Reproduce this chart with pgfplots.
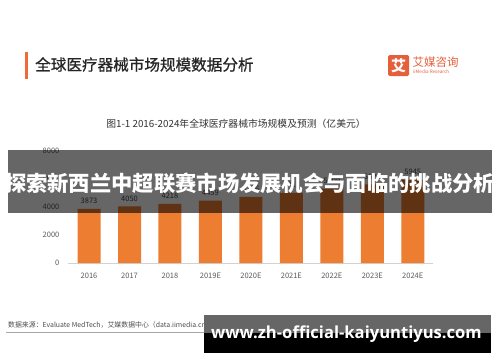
\documentclass[border=0pt]{standalone}
\usepackage{pgfplots}
\pgfplotsset{compat=1.18}
\usepackage{fontspec}
\setmainfont{Noto Sans CJK SC}
\newfontfamily\cjkm[BoldFont={Noto Sans CJK SC},BoldFeatures={FakeBold=0.8}]{Noto Sans CJK SC}
\newfontfamily\osb{Open Sans}
\definecolor{barc}{HTML}{ED7D31}
\definecolor{titlebar}{HTML}{F06A35}
\definecolor{logored}{HTML}{E5603A}
\definecolor{tickc}{HTML}{595959}
\begin{document}
\begin{tikzpicture}
\path[use as bounding box] (0pt,0pt) rectangle (500pt,-362pt);
\begin{scope}[x=1pt,y=-1pt]
% header
\fill[titlebar] (24.5,52) rectangle (28,79);
\node[anchor=west,text=black!85,inner sep=0,font=\cjkm\fontsize{15.6}{16}\selectfont\bfseries] at (35,64.5) {全球医疗器械市场规模数据分析};
% logo
\fill[logored,rounded corners=1.5pt] (388,55) rectangle (409,76);
\node[text=white,font=\fontsize{15}{15}\selectfont\bfseries] at (398.5,65.5) {艾};
\node[anchor=west,text=logored,inner sep=0,font=\fontsize{11.5}{12}\selectfont] at (412.5,62) {艾媒咨询};
\node[anchor=west,text=logored,inner sep=0,font=\fontsize{4.6}{5}\selectfont] at (413,71.5) {iiMedia Research};
% subtitle
\node[text=black!80,font=\fontsize{9.8}{10}\selectfont] at (236,124) {图1-1 2016-2024年全球医疗器械市场规模及预测（亿美元）};
% source
\node[anchor=west,text=black!70,inner sep=0,font=\fontsize{6.9}{7}\selectfont] at (8,325) {数据来源：Evaluate MedTech，艾媒数据中心（data.iimedia.cn）};
\draw[gray!70,line width=0.6pt] (6,332) -- (215,332);
\end{scope}
\begin{axis}[
  at={(68pt,-263pt)}, anchor=south west,
  scale only axis, width=365pt, height=112pt,
  xmin=-0.52, xmax=8.5, ymin=0, ymax=8000,
  ytick={0,2000,4000,6000,8000},
  xtick={0,1,2,3,4,5,6,7,8},
  xticklabels={2016,2017,2018,2019E,2020E,2021E,2022E,2023E,2024E},
  axis lines=left,
  x axis line style={-,gray!35,line width=0.6pt},
  y axis line style={draw=none},
  tick style={draw=none},
  ticklabel style={font=\fontsize{7.5}{8}\selectfont,text=tickc},
  /pgf/number format/assume math mode=true,
  /pgf/number format/1000 sep={},
  yticklabel style={xshift=-3pt},
  xticklabel style={yshift=-2pt},
  ybar, bar width=23pt,
  nodes near coords,
  every node near coord/.append style={font=\fontsize{7.5}{8}\selectfont,text=black!75,yshift=1.5pt,/pgf/number format/assume math mode=true,/pgf/number format/1000 sep={}},
  clip=false,
]
\addplot[fill=barc,draw=none] coordinates {
(0,3873) (1,4050) (2,4218) (3,4459) (4,4726) (5,5013) (6,5309) (7,5623) (8,5945)};
\end{axis}
\begin{scope}[x=1pt,y=-1pt]
% banner
\fill[black,opacity=0.6] (8,150) rectangle (492,213);
\node[text=white,font=\fontsize{21.3}{22}\selectfont\bfseries] at (250,183) {探索新西兰中超联赛市场发展机会与面临的挑战分析};
% url box
\fill[black!60] (204,315) rectangle (491,333);
\fill[black] (204,333) rectangle (491,353);
\node[text=white,font=\osb\fontsize{16.6}{17}\selectfont\bfseries] at (346.5,334) {www.zh-official-kaiyuntiyus.com};
\end{scope}
\end{tikzpicture}
\end{document}
